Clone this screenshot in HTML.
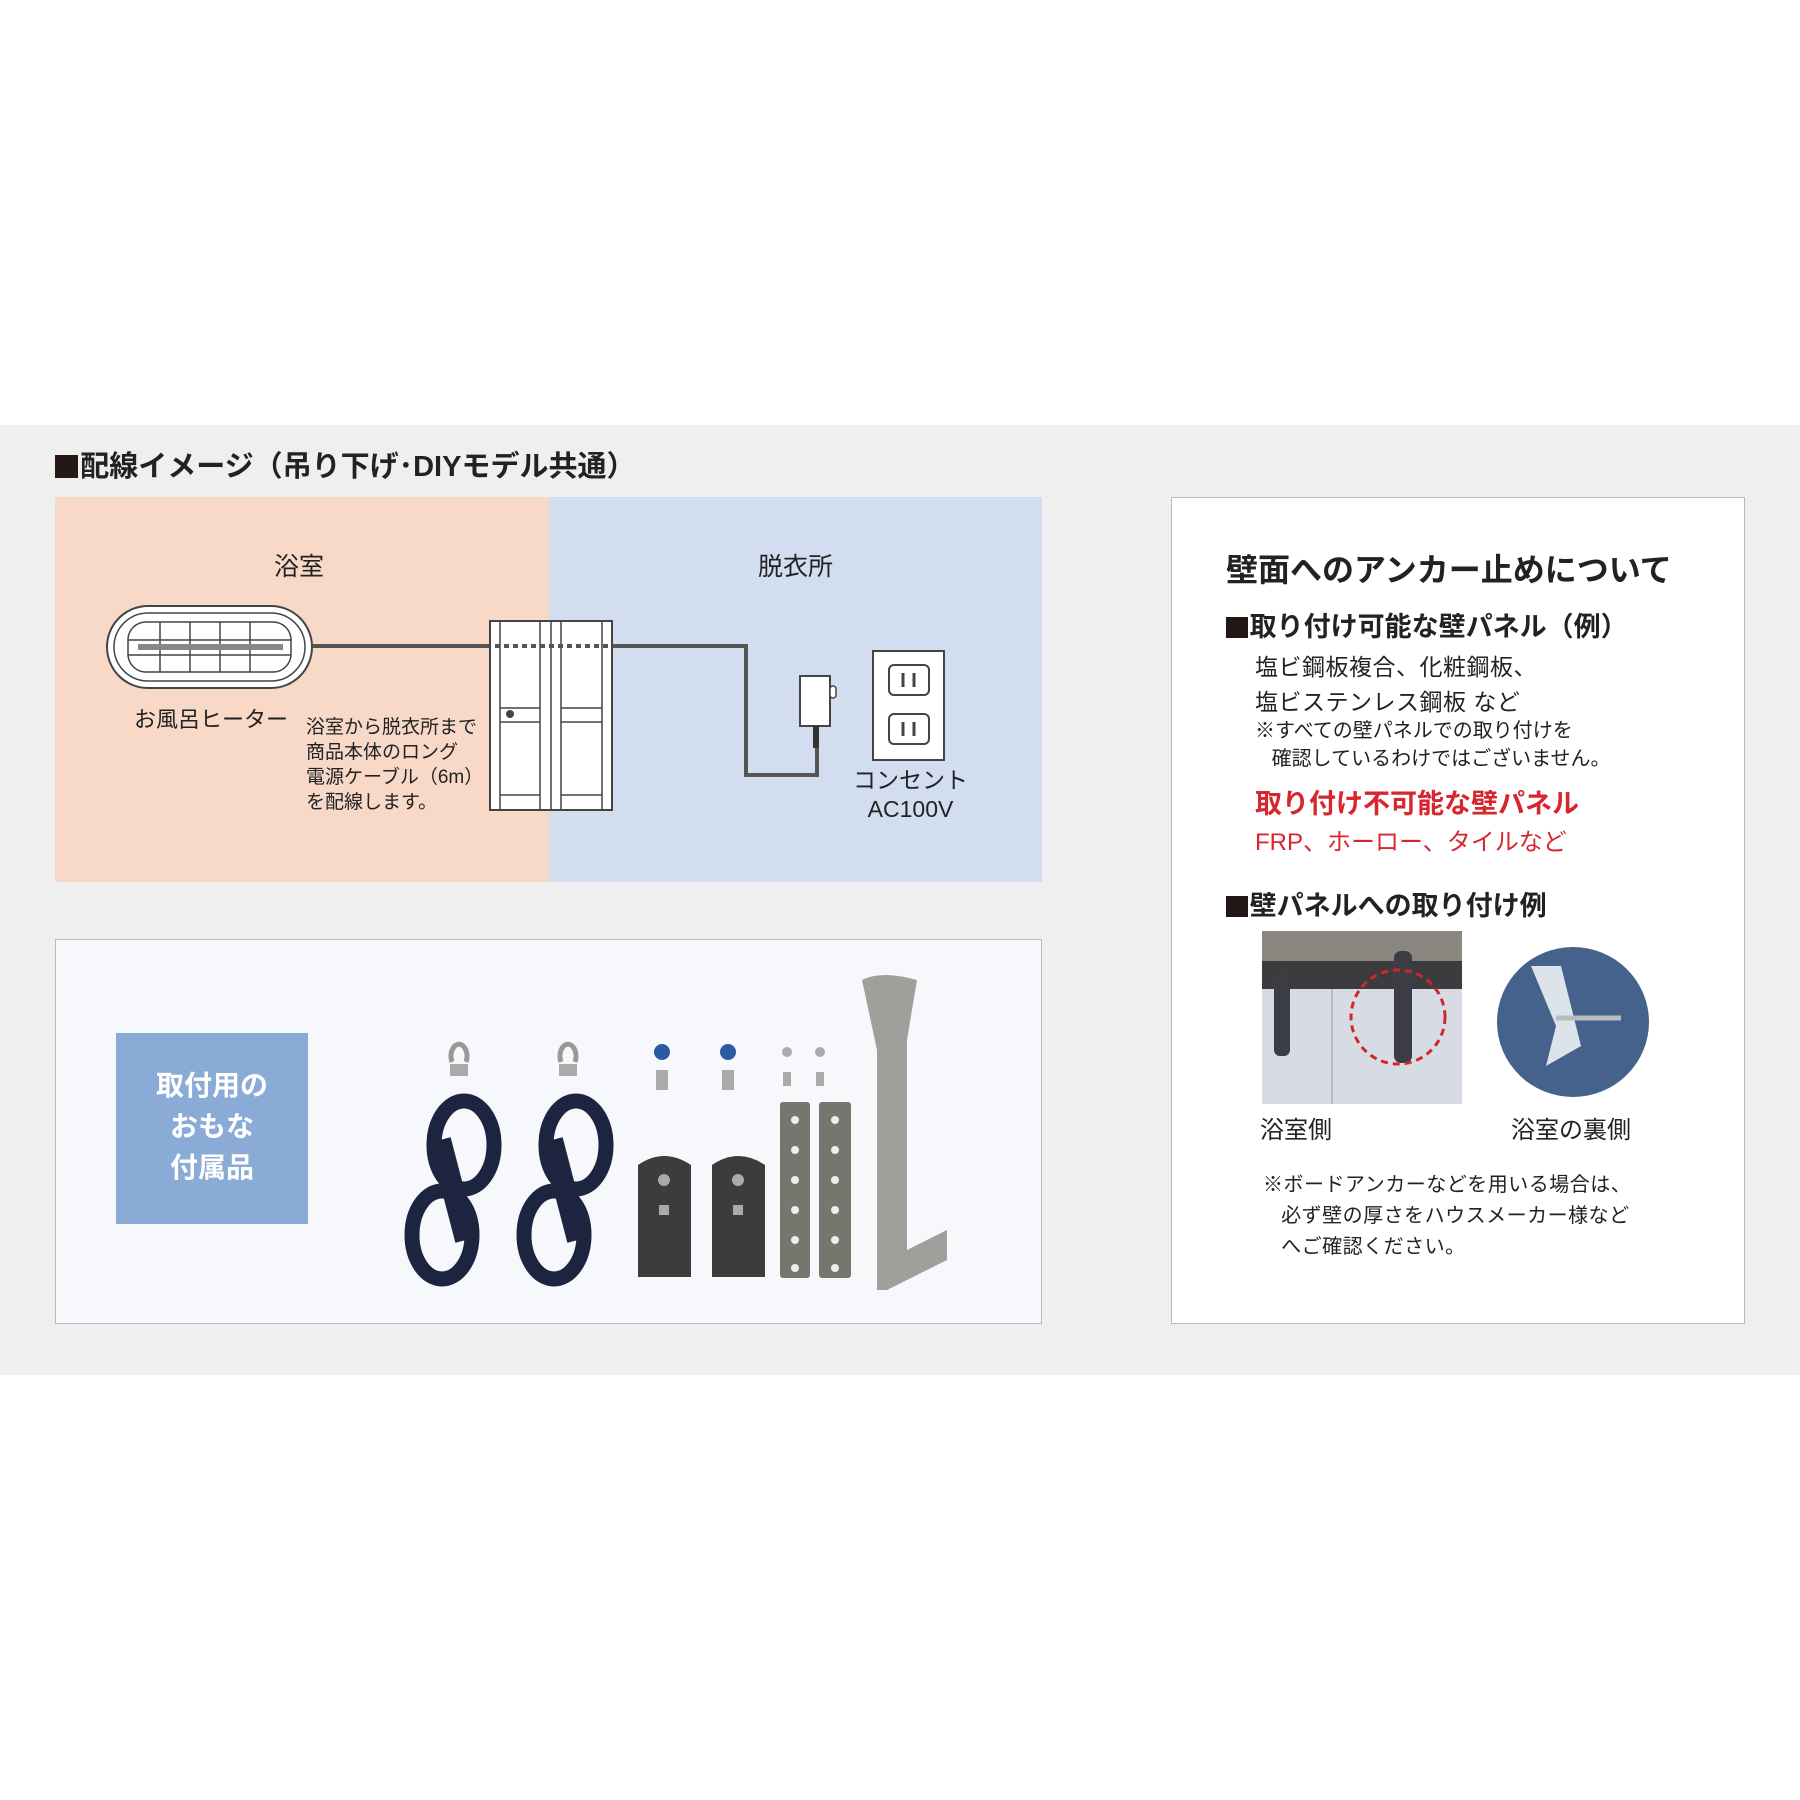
<!DOCTYPE html>
<html><head><meta charset="utf-8"><style>
body{margin:0;width:1800px;height:1800px;background:#fff;position:relative;font-family:"Liberation Sans","Noto Sans CJK JP",sans-serif;color:#222;overflow:hidden}
.a{position:absolute;white-space:nowrap}
.sq{display:inline-block;width:0.8em;height:0.8em;background:#231815;margin-right:2px;vertical-align:-0.08em}
</style></head><body>
<div class="a" style="left:0;top:425px;width:1800px;height:950px;background:#efefef"></div>
<div class="a" style="left:55px;top:443px;font-size:29px;font-weight:bold;color:#222"><span class="sq"></span>配線イメージ（吊り下げ･DIYモデル共通）</div>
<div class="a" style="left:55px;top:497px;width:494px;height:385px;background:#f8d9c8"></div>
<div class="a" style="left:549px;top:497px;width:493px;height:385px;background:#d2ddf0"></div>
<div class="a" style="left:274px;top:547px;font-size:25px">浴室</div>
<div class="a" style="left:758px;top:547px;font-size:25px">脱衣所</div>
<svg class="a" style="left:0;top:0" width="1100" height="900">
 <polyline points="313,646 490,646" stroke="#555" stroke-width="4" fill="none"/>
 <polyline points="612,646 746,646 746,775 817,775 817,740" stroke="#555" stroke-width="4" fill="none"/>
 <rect x="107" y="606" width="205" height="82" rx="41" fill="#fff" stroke="#444" stroke-width="2"/>
 <rect x="114" y="613" width="191" height="68" rx="34" fill="none" stroke="#444" stroke-width="1.5"/>
 <rect x="128" y="622" width="163" height="50" rx="18" fill="#fff" stroke="#444" stroke-width="1.5"/>
 <g stroke="#444" stroke-width="1.5"><line x1="160" y1="622" x2="160" y2="672"/><line x1="190" y1="622" x2="190" y2="672"/><line x1="220" y1="622" x2="220" y2="672"/><line x1="250" y1="622" x2="250" y2="672"/><line x1="128" y1="640" x2="291" y2="640"/><line x1="128" y1="655" x2="291" y2="655"/></g>
 <rect x="138" y="644" width="145" height="6" fill="#888"/>
 <rect x="490" y="621" width="122" height="189" fill="#fff" stroke="#444" stroke-width="2"/>
 <g stroke="#444" stroke-width="1.5" fill="none"><line x1="500" y1="621" x2="500" y2="810"/><line x1="540" y1="621" x2="540" y2="810"/><line x1="551" y1="621" x2="551" y2="810"/><line x1="561" y1="621" x2="561" y2="810"/><line x1="602" y1="621" x2="602" y2="810"/>
 <line x1="500" y1="708" x2="540" y2="708"/><line x1="500" y1="722" x2="540" y2="722"/><line x1="561" y1="708" x2="602" y2="708"/><line x1="561" y1="722" x2="602" y2="722"/>
 <line x1="500" y1="795" x2="540" y2="795"/><line x1="561" y1="795" x2="602" y2="795"/></g>
 <line x1="495" y1="646" x2="608" y2="646" stroke="#555" stroke-width="4" stroke-dasharray="5,4"/>
 <circle cx="510" cy="714" r="4" fill="#444"/>
 <rect x="800" y="676" width="30" height="50" fill="#fff" stroke="#444" stroke-width="2"/>
 <rect x="830" y="686" width="6" height="12" rx="3" fill="#fff" stroke="#444" stroke-width="1.5"/>
 <rect x="813" y="726" width="6" height="22" fill="#333"/>
 <rect x="873" y="651" width="71" height="109" fill="#fff" stroke="#444" stroke-width="2"/>
 <rect x="889" y="665" width="40" height="30" rx="5" fill="#fff" stroke="#444" stroke-width="2"/>
 <rect x="889" y="714" width="40" height="30" rx="5" fill="#fff" stroke="#444" stroke-width="2"/>
 <g stroke="#444" stroke-width="3"><line x1="903" y1="673" x2="903" y2="687"/><line x1="914" y1="673" x2="914" y2="687"/><line x1="903" y1="722" x2="903" y2="736"/><line x1="914" y1="722" x2="914" y2="736"/></g>
</svg>
<div class="a" style="left:134px;top:702px;font-size:22px">お風呂ヒーター</div>
<div class="a" style="left:306px;top:715px;font-size:19px;line-height:25px">浴室から脱衣所まで<br>商品本体のロング<br>電源ケーブル（6m）<br>を配線します。</div>
<div class="a" style="left:853px;top:766px;font-size:23px;line-height:29px;text-align:center">コンセント<br>AC100V</div>

<div class="a" style="left:55px;top:939px;width:985px;height:383px;background:#f7f8fb;border:1.5px solid #bbb"></div>
<div class="a" style="left:116px;top:1033px;width:192px;height:191px;background:#8aabd6;color:#fff;font-weight:bold;font-size:28px;line-height:41px;text-align:center;padding-top:32px;box-sizing:border-box">取付用の<br>おもな<br>付属品</div>
<svg class="a" style="left:0;top:0" width="1100" height="1400">
 <g fill="none" stroke="#1d2440" stroke-width="15">
  <ellipse cx="464" cy="1145" rx="30" ry="44"/><ellipse cx="442" cy="1235" rx="30" ry="44"/>
  <ellipse cx="576" cy="1145" rx="30" ry="44"/><ellipse cx="554" cy="1235" rx="30" ry="44"/>
 </g>
 <g stroke="#1d2440" stroke-width="22"><line x1="440" y1="1140" x2="466" y2="1240"/><line x1="552" y1="1140" x2="578" y2="1240"/></g>
 <g fill="none" stroke="#999" stroke-width="5"><path d="M452,1062 a8,12 0 1 1 14,0"/><path d="M561,1062 a8,12 0 1 1 14,0"/></g>
 <rect x="450" y="1064" width="18" height="12" fill="#aaa"/><rect x="559" y="1064" width="18" height="12" fill="#aaa"/>
 <g fill="#2a5aa0"><circle cx="662" cy="1052" r="8"/><circle cx="728" cy="1052" r="8"/></g>
 <g fill="#aaa"><circle cx="787" cy="1052" r="5"/><circle cx="820" cy="1052" r="5"/>
 <rect x="656" y="1070" width="12" height="20"/><rect x="722" y="1070" width="12" height="20"/><rect x="783" y="1072" width="8" height="14"/><rect x="816" y="1072" width="8" height="14"/></g>
 <path d="M638,1165 q26,-18 53,0 v112 h-53z" fill="#3a3d3a"/>
 <path d="M712,1165 q26,-18 53,0 v112 h-53z" fill="#3a3d3a"/>
 <g fill="#aaa"><circle cx="664" cy="1180" r="6"/><circle cx="738" cy="1180" r="6"/><rect x="659" y="1205" width="10" height="10"/><rect x="733" y="1205" width="10" height="10"/></g>
 <rect x="780" y="1102" width="30" height="176" rx="3" fill="#75776f"/>
 <rect x="819" y="1102" width="32" height="176" rx="3" fill="#75776f"/>
 <g fill="#eee"><circle cx="795" cy="1120" r="4"/><circle cx="795" cy="1150" r="4"/><circle cx="795" cy="1180" r="4"/><circle cx="795" cy="1210" r="4"/><circle cx="795" cy="1240" r="4"/><circle cx="795" cy="1268" r="4"/>
 <circle cx="835" cy="1120" r="4"/><circle cx="835" cy="1150" r="4"/><circle cx="835" cy="1180" r="4"/><circle cx="835" cy="1210" r="4"/><circle cx="835" cy="1240" r="4"/><circle cx="835" cy="1268" r="4"/></g>
 <path d="M862,980 q20,-10 55,0 l-10,60 v210 l40,-20 v30 l-60,30 h-10 v-240z" fill="#9ea09b"/>
</svg>

<div class="a" style="left:1171px;top:497px;width:572px;height:825px;background:#fff;border:1.5px solid #bbb"></div>
<div class="a" style="left:1226px;top:545px;font-size:32px;font-weight:bold">壁面へのアンカー止めについて</div>
<div class="a" style="left:1226px;top:605px;font-size:27px;font-weight:bold"><span class="sq"></span>取り付け可能な壁パネル（例）</div>
<div class="a" style="left:1255px;top:650px;font-size:23px;line-height:35px;letter-spacing:0.5px">塩ビ鋼板複合、化粧鋼板、<br>塩ビステンレス鋼板 など</div>
<div class="a" style="left:1255px;top:717px;font-size:20px;line-height:28px">※すべての壁パネルでの取り付けを<br>&nbsp;&nbsp;&nbsp;確認しているわけではございません。</div>
<div class="a" style="left:1255px;top:782px;font-size:27px;font-weight:bold;color:#d8262e">取り付け不可能な壁パネル</div>
<div class="a" style="left:1255px;top:822px;font-size:24px;color:#d8262e">FRP、ホーロー、タイルなど</div>
<div class="a" style="left:1226px;top:884px;font-size:27px;font-weight:bold"><span class="sq"></span>壁パネルへの取り付け例</div>
<svg class="a" style="left:1262px;top:931px" width="200" height="173">
 <rect width="200" height="173" fill="#d7dce4"/>
 <rect width="200" height="30" fill="#8a8680"/>
 <rect x="0" y="30" width="200" height="28" fill="#3c3c3e"/>
 <line x1="70" y1="58" x2="70" y2="173" stroke="#bbb" stroke-width="2"/>
 <rect x="12" y="40" width="16" height="85" rx="6" fill="#3c3c44"/>
 <rect x="132" y="20" width="18" height="112" rx="7" fill="#3c3c44"/>
 <circle cx="136" cy="86" r="47" fill="none" stroke="#d0262e" stroke-width="3" stroke-dasharray="7,5"/>
</svg>
<svg class="a" style="left:1496px;top:946px" width="155" height="152">
 <ellipse cx="77" cy="76" rx="76" ry="75" fill="#45628c"/>
 <path d="M35,20 l25,60 l-10,40 l35,-20 l-20,-80z" fill="#dde3ea"/>
 <line x1="60" y1="72" x2="125" y2="72" stroke="#b7bcc0" stroke-width="5"/>
</svg>
<div class="a" style="left:1260px;top:1110px;font-size:24px">浴室側</div>
<div class="a" style="left:1511px;top:1110px;font-size:24px">浴室の裏側</div>
<div class="a" style="left:1263px;top:1170px;font-size:20px;line-height:31px;letter-spacing:0.5px">※ボードアンカーなどを用いる場合は、<br>&nbsp;&nbsp;&nbsp;必ず壁の厚さをハウスメーカー様など<br>&nbsp;&nbsp;&nbsp;へご確認ください。</div>
</body></html>
